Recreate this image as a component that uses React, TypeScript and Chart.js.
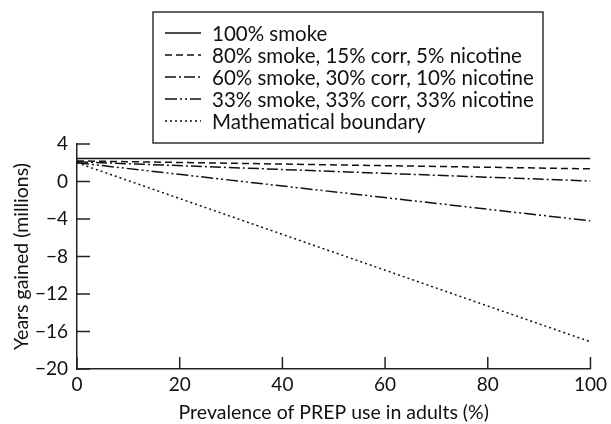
import React, { useEffect, useRef } from "react";
import { Chart, registerables } from "chart.js";

Chart.register(...registerables);

const xValues = [0, 100];
const labels = [
  "100% smoke",
  "80% smoke, 15% corr, 5% nicotine",
  "60% smoke, 30% corr, 10% nicotine",
  "33% smoke, 33% corr, 33% nicotine",
  "Mathematical boundary",
];
const smoke100 = [2.45, 2.45];
const smoke80 = [2.2, 1.35];
const smoke60 = [2.1, 0.05];
const smoke33 = [2.0, -4.2];
const boundary = [2.0, -17.1];
const dashes = [[], [7, 4], [11, 3, 2, 3], [12, 3, 2, 3, 2, 3], [2, 3]];
const yTicks = [4, 0, -4, -8, -12, -16, -20];
const xTicks = [0, 20, 40, 60, 80, 100];

const FONT = "Lato, 'DejaVu Sans', sans-serif";

const series = [smoke100, smoke80, smoke60, smoke33, boundary];

const customPlugin = {
  id: "custom",
  afterDraw(chart: any) {
    const ctx = chart.ctx;
    const xs = chart.scales.x;
    const ys = chart.scales.y;
    ctx.save();
    ctx.strokeStyle = "#222";
    ctx.lineWidth = 1.5;
    ctx.setLineDash([]);
    yTicks.forEach((v) => {
      const py = ys.getPixelForValue(v);
      ctx.beginPath();
      ctx.moveTo(xs.left, py);
      ctx.lineTo(xs.left + 13, py);
      ctx.stroke();
    });
    xTicks.forEach((v) => {
      const px = xs.getPixelForValue(v);
      ctx.beginPath();
      ctx.moveTo(px, ys.bottom);
      ctx.lineTo(px, ys.bottom - 12);
      ctx.stroke();
    });
    const bx = 153, by = 12, bw = 390, bh = 131;
    ctx.fillStyle = "#fff";
    ctx.fillRect(bx, by, bw, bh);
    ctx.strokeStyle = "#333";
    ctx.lineWidth = 1.5;
    ctx.strokeRect(bx, by, bw, bh);
    ctx.font = "20.5px " + FONT;
    ctx.textBaseline = "middle";
    ctx.fillStyle = "#111";
    labels.forEach((lab, i) => {
      const cy = by + 21 + i * 22;
      ctx.strokeStyle = "#111";
      ctx.lineWidth = 1.4;
      ctx.setLineDash(dashes[i]);
      ctx.beginPath();
      ctx.moveTo(bx + 12, cy);
      ctx.lineTo(bx + 48, cy);
      ctx.stroke();
      ctx.setLineDash([]);
      ctx.fillText(lab, bx + 59, cy + 1);
    });
    ctx.restore();
  },
};

export default function App() {
  const ref = useRef<HTMLCanvasElement>(null);
  useEffect(() => {
    document.body.style.margin = "0";
    const chart = new Chart(ref.current!, {
      type: "line",
      data: {
        datasets: series.map((s, i) => ({
          label: labels[i],
          data: s.map((v, j) => ({ x: xValues[j], y: v })),
          borderColor: "#111",
          borderWidth: 1.5,
          borderDash: dashes[i],
          pointRadius: 0,
          fill: false,
        })),
      },
      options: {
        animation: false,
        responsive: false,
        maintainAspectRatio: false,
        layout: { padding: { top: 144, right: 18, left: 0, bottom: 0 } },
        plugins: { legend: { display: false }, tooltip: { enabled: false } },
        scales: {
          x: {
            type: "linear",
            min: 0,
            max: 100,
            afterBuildTicks: (s: any) => {
              s.ticks = xTicks.map((v) => ({ value: v }));
            },
            afterFit: (s: any) => {
              s.height = 55;
            },
            grid: { display: false, drawTicks: false },
            border: { display: true, color: "#222", width: 1.5 },
            ticks: {
              padding: 4,
              color: "#111",
              font: { family: FONT, size: 19 },
              maxRotation: 0,
            },
            title: {
              display: true,
              text: "Prevalence of PREP use in adults (%)",
              color: "#111",
              font: { family: FONT, size: 19.5 },
              padding: { top: 1, bottom: 0 },
            },
          },
          y: {
            type: "linear",
            min: -20,
            max: 4,
            afterBuildTicks: (s: any) => {
              s.ticks = yTicks.map((v) => ({ value: v }));
            },
            afterFit: (s: any) => {
              s.width = 77;
            },
            grid: { display: false, drawTicks: false },
            border: { display: true, color: "#222", width: 1.5 },
            ticks: {
              padding: 9,
              color: "#111",
              font: { family: FONT, size: 19 },
              callback: (v: any) => (Number(v) < 0 ? "\u2212" + Math.abs(Number(v)) : String(v)),
            },
            title: {
              display: true,
              text: "Years gained (millions)",
              color: "#111",
              font: { family: FONT, size: 19.5 },
              padding: { top: 10, bottom: 4 },
            },
          },
        },
      },
      plugins: [customPlugin],
    });
    return () => chart.destroy();
  }, []);
  return (
    <div style={{ width: 611, height: 424 }}>
      <canvas ref={ref} width={611} height={424} />
    </div>
  );
}
